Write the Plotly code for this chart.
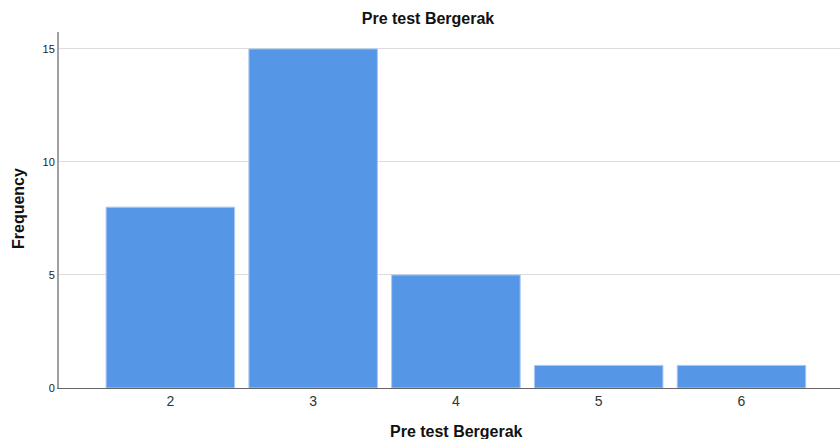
import plotly.graph_objects as go

# values
scores = [2, 3, 4, 5, 6]
frequency = [8, 15, 5, 1, 1]
y_ticks = [0, 5, 10, 15]

title_text = "Pre test Bergerak"
font_family = "Liberation Sans, Arial, sans-serif"

fig = go.Figure(
    data=go.Bar(
        x=scores,
        y=frequency,
        marker=dict(
            color="#5596e6",
            line=dict(color="#a9c9f2", width=1),
        ),
        width=0.9,
        hoverinfo="skip",
    )
)

fig.update_layout(
    width=840,
    height=439,
    margin=dict(l=59, r=0, t=32, b=51),
    plot_bgcolor="white",
    paper_bgcolor="white",
    font=dict(family=font_family, color="#222"),
    showlegend=False,
    title=dict(
        text="<b>" + title_text + "</b>",
        x=428 / 840,
        xanchor="center",
        y=1 - 18 / 439,
        yanchor="middle",
        font=dict(size=16, color="#111"),
    ),
    xaxis=dict(
        range=[1.22, 6.69],
        tickvals=scores,
        ticktext=[str(s) for s in scores],
        tickfont=dict(size=14, color="#333"),
        showgrid=False,
        showline=True,
        linecolor="#666",
        linewidth=1,
        ticks="",
        zeroline=False,
        fixedrange=True,
    ),
    yaxis=dict(
        range=[0, 15.75],
        tickvals=y_ticks,
        tickfont=dict(size=11, color="#222"),
        showgrid=True,
        gridcolor="#dcdcdc",
        gridwidth=1,
        showline=True,
        linecolor="#a0a0a0",
        linewidth=2,
        ticks="",
        zeroline=False,
        fixedrange=True,
    ),
    annotations=[
        dict(
            text="<b>" + title_text + "</b>",
            xref="paper", yref="paper",
            x=(456 - 59) / 781, y=-(431 - 388) / 356,
            xanchor="center", yanchor="middle",
            showarrow=False,
            font=dict(size=16, color="#111"),
        ),
        dict(
            text="<b>Frequency</b>",
            xref="paper", yref="paper",
            x=-(59 - 18) / 781, y=(388 - 209) / 356,
            xanchor="center", yanchor="middle",
            textangle=-90,
            showarrow=False,
            font=dict(size=16, color="#111"),
        ),
    ],
)

# drop the default page margin so the figure sits at the window's corner
fig.write_html(
    "out.html",
    config={"displayModeBar": False},
    post_script="document.body.style.margin = '0';",
)
